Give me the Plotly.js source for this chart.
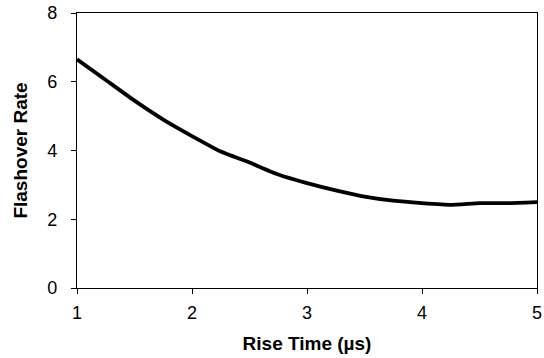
<!DOCTYPE html>
<html><head><meta charset="utf-8">
<script src="https://cdn.plot.ly/plotly-3.0.1.min.js"></script>
<style>html,body{margin:0;padding:0;background:#fff}#c{width:544px;height:358px}</style>
</head><body><div id="c"></div>
<script>
const riseTime = [1, 1.25, 1.5, 1.75, 2, 2.25, 2.5, 2.75, 3, 3.25, 3.5, 3.75, 4, 4.25, 4.5, 4.75, 5];
const flashoverRate = [6.65, 6.05, 5.45, 4.9, 4.42, 3.97, 3.65, 3.3, 3.05, 2.84, 2.66, 2.54, 2.47, 2.42, 2.47, 2.47, 2.5];
const xTicks = [1, 2, 3, 4, 5];
const yTicks = [0, 2, 4, 6, 8];
const font = 'Liberation Sans, Arial, sans-serif';
Plotly.newPlot('c', [{
  x: riseTime, y: flashoverRate, type: 'scatter', mode: 'lines',
  line: {color: '#000', width: 3.8, shape: 'spline', smoothing: 0.4}, hoverinfo: 'none'
}], {
  width: 544, height: 358,
  margin: {l: 77, r: 7, t: 13, b: 70},
  paper_bgcolor: '#fff', plot_bgcolor: '#fff',
  showlegend: false,
  font: {family: font, color: '#000', size: 18},
  xaxis: {
    range: [1, 5], tickvals: xTicks, ticktext: xTicks.map(String),
    showgrid: false, zeroline: false, showline: true, linecolor: '#000', linewidth: 1.2,
    mirror: true, ticks: 'outside', ticklen: 5, tickcolor: '#000', ticklabelstandoff: 3,
    tickfont: {size: 18, family: font},
    title: {text: '<b>Rise Time (µs)</b>', font: {size: 19, family: font}, standoff: 15}
  },
  yaxis: {
    range: [0, 8], tickvals: yTicks, ticktext: yTicks.map(String),
    showgrid: false, zeroline: false, showline: true, linecolor: '#000', linewidth: 1.2,
    mirror: true, ticks: 'outside', ticklen: 5, tickcolor: '#000', ticklabelstandoff: 10,
    tickfont: {size: 18, family: font},
    title: {text: '<b>Flashover Rate</b>', font: {size: 19, family: font}, standoff: 14}
  }
}, {staticPlot: true});
</script></body></html>
